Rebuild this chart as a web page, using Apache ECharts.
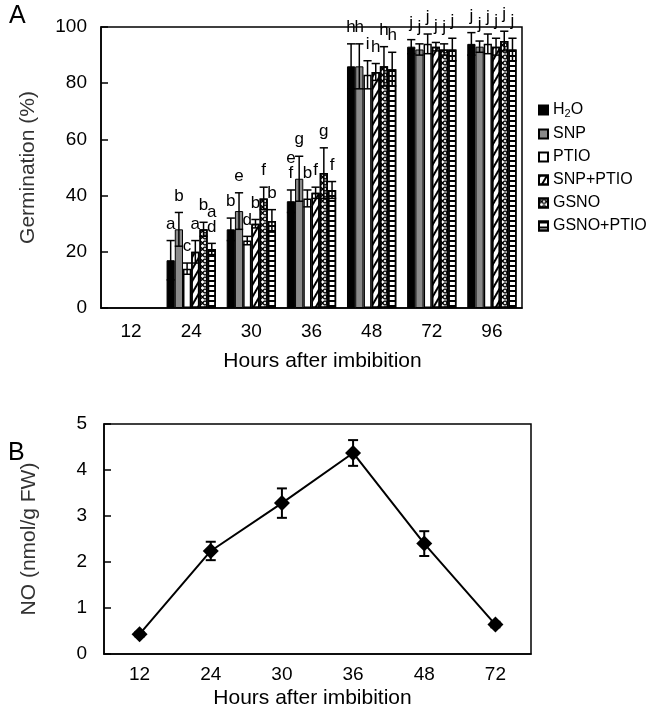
<!DOCTYPE html>
<html>
<head>
<meta charset="utf-8">
<script src="https://cdn.jsdelivr.net/npm/echarts@6/dist/echarts.min.js"></script>
<style>
html,body{margin:0;padding:0;background:#fff;}
#c{width:655px;height:710px;}
</style>
</head>
<body>
<div id="c"></div>
<script>
// ---------- Data: panel A (germination %) ----------
var hoursA = ['12', '24', '30', '36', '48', '72', '96'];
var treatments = ['H2O', 'SNP', 'PTIO', 'SNP+PTIO', 'GSNO', 'GSNO+PTIO'];
var h2oVal   = ['-', 17, 28, 38, 86, 93, 94];
var h2oErr   = [0, 7, 4, 4, 8, 2.5, 4];
var snpVal   = ['-', 28, 34.5, 46, 86, 92, 93];
var snpErr   = [0, 6, 6.5, 8, 8, 2, 2];
var ptioVal  = ['-', 14, 24, 39, 83, 94, 94];
var ptioErr  = [0, 2, 1.5, 3, 5, 3.5, 3.5];
var snpPtioVal = ['-', 20, 30, 41, 84, 93, 93];
var snpPtioErr = [0, 4, 1.5, 2, 3, 1.5, 3];
var gsnoVal  = ['-', 28, 39, 48, 86, 92, 95];
var gsnoErr  = [0, 2.5, 4, 9, 7, 2, 3.5];
var gsnoPtioVal = ['-', 21, 31, 42, 85, 92, 92];
var gsnoPtioErr = [0, 2, 4, 3, 6, 4, 4];
var h2oLetters      = ['', 'a', 'b', 'e\nf', 'h', 'j', 'j'];
var snpLetters      = ['', 'b', 'e', 'g', 'h', 'j', 'j'];
var ptioLetters     = ['', 'c', 'd', 'b', 'i', 'j', 'j'];
var snpPtioLetters  = ['', 'a', 'b', 'f', 'h', 'j', 'j'];
var gsnoLetters     = ['', 'b', 'f', 'g', 'h', 'j', 'j'];
var gsnoPtioLetters = ['', 'a\nd', 'b', 'f', 'h', 'j', 'j'];
var yTicksA = [0, 20, 40, 60, 80, 100];

// ---------- Data: panel B (NO content) ----------
var hoursB = ['12', '24', '30', '36', '48', '72'];
var noVal = [0.43, 2.24, 3.28, 4.37, 2.40, 0.64];
var noErr = [0.05, 0.2, 0.32, 0.28, 0.27, 0.06];
var yTicksB = [0, 1, 2, 3, 4, 5];

// ---------- Build ----------
var FONT = 'Liberation Sans, Arial, Helvetica, sans-serif';
var CAT_GAP = 0.18;
var vals = [h2oVal, snpVal, ptioVal, snpPtioVal, gsnoVal, gsnoPtioVal];
var errs = [h2oErr, snpErr, ptioErr, snpPtioErr, gsnoErr, gsnoPtioErr];
var letters = [h2oLetters, snpLetters, ptioLetters, snpPtioLetters, gsnoLetters, gsnoPtioLetters];

var styles = [
  {color: '#000', borderColor: '#000', borderWidth: 1},
  {color: '#8a8a8a', borderColor: '#000', borderWidth: 1},
  {color: '#fff', borderColor: '#000', borderWidth: 1.5},
  {color: '#fff', borderColor: '#000', borderWidth: 1.5,
   decal: {symbol: 'rect', symbolSize: 1, dashArrayX: [1, 0], dashArrayY: [2, 3.5], rotation: -Math.PI / 3, color: '#000'}},
  {color: '#fff', borderColor: '#000', borderWidth: 1.5,
   decal: {symbol: 'path://M0,0L2,0L10,8L10,10L8,10L0,2ZM8,0L10,0L10,2L2,10L0,10L0,8Z', symbolSize: 1, dashArrayX: [5, 0], dashArrayY: [6, 0], rotation: 0, color: '#000'}},
  {color: '#fff', borderColor: '#000', borderWidth: 1.5,
   decal: {symbol: 'rect', symbolSize: 1, dashArrayX: [1, 0], dashArrayY: [2, 2.5], rotation: 0, color: '#000'}}
];

var series = [];
treatments.forEach(function (name, s) {
  series.push({
    name: name, type: 'bar', xAxisIndex: 0, yAxisIndex: 0,
    data: vals[s], barGap: '0%', barCategoryGap: (CAT_GAP * 100) + '%',
    itemStyle: styles[s], emphasis: {disabled: true}, z: 2
  });
});
treatments.forEach(function (name, s) {
  var data = [];
  vals[s].forEach(function (v, i) { if (v !== '-') data.push([i, v, errs[s][i], i]); });
  series.push({
    type: 'custom', xAxisIndex: 0, yAxisIndex: 0, z: 5, silent: true,
    encode: {x: 0, y: 1},
    data: data,
    renderItem: function (params, api) {
      var i = api.value(0), v = api.value(1), e = api.value(2);
      var c = api.coord([i, v]);
      var band = api.size([1, 0])[0];
      var bw = band * (1 - CAT_GAP) / 6;
      var x = c[0] - 3 * bw + (s + 0.5) * bw;
      var yT = api.coord([i, v + e])[1];
      var yB = api.coord([i, v - e])[1];
      var hw = bw * 0.5;
      var ls = {stroke: '#000', lineWidth: 1.5};
      return {
        type: 'group',
        children: [
          {type: 'line', shape: {x1: x, y1: yT, x2: x, y2: yB}, style: ls},
          {type: 'line', shape: {x1: x - hw, y1: yT, x2: x + hw, y2: yT}, style: ls},
          {type: 'line', shape: {x1: x - hw, y1: yB, x2: x + hw, y2: yB}, style: ls},
          {type: 'text', style: {text: letters[s][i], x: x, y: yT - 9, align: 'center', verticalAlign: 'bottom',
            textAlign: 'center', textVerticalAlign: 'bottom', fontSize: 17, fontFamily: FONT, fill: '#000', lineHeight: 15}}
        ]
      };
    }
  });
});

// Panel B
series.push({
  type: 'line', xAxisIndex: 1, yAxisIndex: 1, data: noVal,
  symbol: 'diamond', symbolSize: 16, showSymbol: true,
  lineStyle: {color: '#000', width: 2}, itemStyle: {color: '#000'}, z: 3, silent: true
});
series.push({
  type: 'custom', xAxisIndex: 1, yAxisIndex: 1, z: 4, silent: true,
  encode: {x: 0, y: 1},
  data: noVal.map(function (v, i) { return [i, v, noErr[i]]; }),
  renderItem: function (params, api) {
    var i = api.value(0), v = api.value(1), e = api.value(2);
    var x = api.coord([i, v])[0];
    var yT = api.coord([i, v + e])[1];
    var yB = api.coord([i, v - e])[1];
    var hw = 5;
    var ls = {stroke: '#000', lineWidth: 2};
    return {type: 'group', children: [
      {type: 'line', shape: {x1: x, y1: yT, x2: x, y2: yB}, style: ls},
      {type: 'line', shape: {x1: x - hw, y1: yT, x2: x + hw, y2: yT}, style: ls},
      {type: 'line', shape: {x1: x - hw, y1: yB, x2: x + hw, y2: yB}, style: ls}
    ]};
  }
});

var axisLineStyle = {color: '#000', width: 1.5};
var option = {
  backgroundColor: '#fff',
  animation: false,
  textStyle: {fontFamily: FONT, color: '#000'},
  grid: [
    {left: 101, top: 27, right: 133, bottom: 402, show: true, borderColor: '#000', borderWidth: 1.5, backgroundColor: 'transparent', containLabel: false},
    {left: 104, top: 424, right: 124, bottom: 55, show: true, borderColor: '#000', borderWidth: 1.5, backgroundColor: 'transparent', containLabel: false}
  ],
  legend: {
    data: treatments, orient: 'vertical', left: 533, top: 97,
    itemWidth: 9, itemHeight: 9, itemGap: 7, icon: 'rect',
    textStyle: {fontSize: 16, fontFamily: FONT, color: '#000',
      rich: {sub: {fontSize: 11, fontFamily: FONT, padding: [7, 0, 0, 0]}, n: {fontSize: 16, fontFamily: FONT}}},
    formatter: function (n) { return n === 'H2O' ? '{n|H}{sub|2}{n|O}' : n; },
    selectedMode: false
  },
  xAxis: [
    {type: 'category', gridIndex: 0, data: hoursA, boundaryGap: true,
     axisLine: {lineStyle: axisLineStyle}, axisTick: {show: false},
     axisLabel: {fontSize: 19, color: '#000', margin: 14, fontFamily: FONT},
     name: 'Hours after imbibition', nameLocation: 'middle', nameGap: 43,
     nameTextStyle: {fontSize: 21, color: '#000', fontFamily: FONT, padding: [0, 0, 0, 22]},
     splitLine: {show: false}},
    {type: 'category', gridIndex: 1, data: hoursB, boundaryGap: true,
     axisLine: {lineStyle: axisLineStyle}, axisTick: {show: false},
     axisLabel: {fontSize: 19, color: '#000', margin: 11, fontFamily: FONT},
     name: 'Hours after imbibition', nameLocation: 'middle', nameGap: 34,
     nameTextStyle: {fontSize: 21, color: '#000', fontFamily: FONT, padding: [0, 10, 0, 0]},
     splitLine: {show: false}}
  ],
  yAxis: [
    {type: 'value', gridIndex: 0, min: yTicksA[0], max: yTicksA[yTicksA.length - 1], interval: 20,
     axisLine: {show: true, lineStyle: axisLineStyle},
     axisTick: {show: true, inside: true, length: 7, lineStyle: {color: '#000', width: 1.5}},
     axisLabel: {fontSize: 19, color: '#000', margin: 14, fontFamily: FONT},
     splitLine: {show: false},
     name: 'Germination (%)', nameLocation: 'middle', nameRotate: 90, nameGap: 62,
     nameTextStyle: {fontSize: 21, color: '#333', fontFamily: FONT}},
    {type: 'value', gridIndex: 1, min: yTicksB[0], max: yTicksB[yTicksB.length - 1], interval: 1,
     axisLine: {show: true, lineStyle: axisLineStyle},
     axisTick: {show: true, inside: true, length: 7, lineStyle: {color: '#000', width: 1.5}},
     axisLabel: {fontSize: 19, color: '#000', margin: 17, fontFamily: FONT},
     splitLine: {show: false},
     name: 'NO (nmol/g FW)', nameLocation: 'middle', nameRotate: 90, nameGap: 64,
     nameTextStyle: {fontSize: 21, color: '#333', fontFamily: FONT}}
  ],
  graphic: [
    {type: 'text', left: 9, top: 4, style: {text: 'A', fontSize: 25, fontFamily: FONT, fill: '#000'}},
    {type: 'text', left: 8, top: 441, style: {text: 'B', fontSize: 25, fontFamily: FONT, fill: '#000'}}
  ],
  series: series
};

var chart = echarts.init(document.getElementById('c'), null, {renderer: 'canvas'});
chart.setOption(option);
</script>
</body>
</html>
